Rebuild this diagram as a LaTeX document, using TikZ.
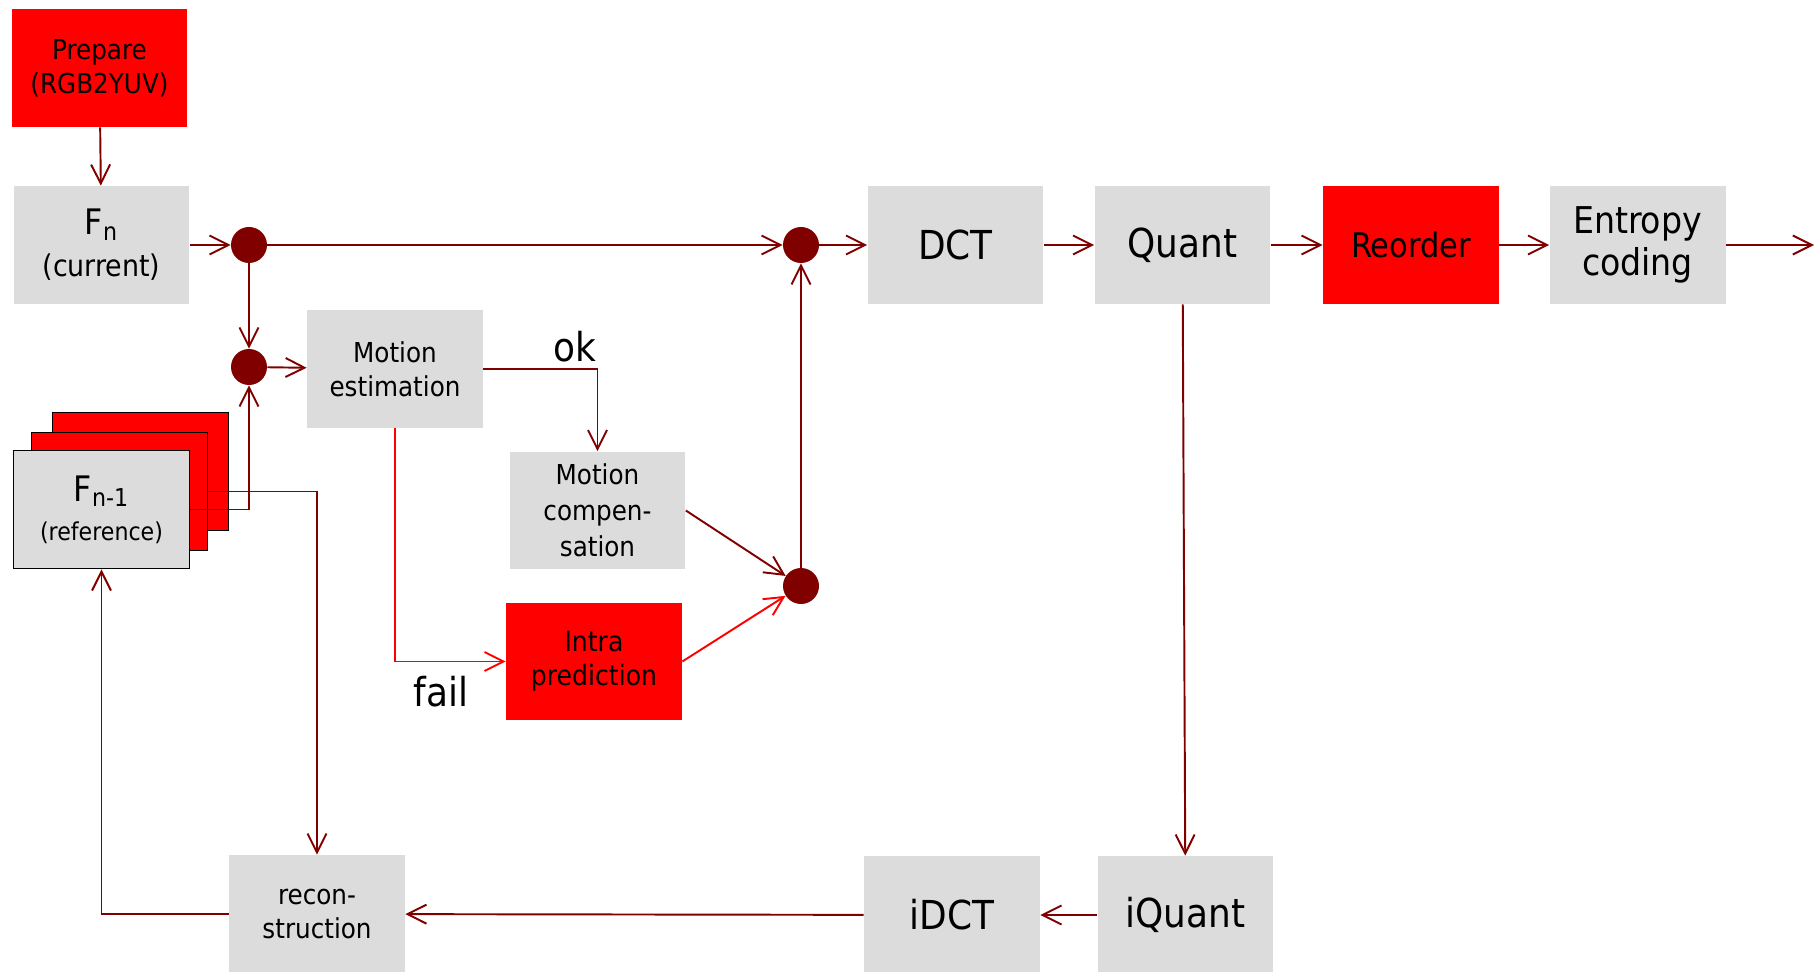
\documentclass[tikz,border=0pt]{standalone}
\usepackage{fontspec}
\setmainfont{DejaVu Sans Condensed}
\usetikzlibrary{arrows.meta,positioning}
\definecolor{boxgray}{RGB}{220,220,220}
\definecolor{linered}{RGB}{128,0,0}
\definecolor{brightred}{RGB}{255,0,0}
\tikzset{%
	block/.style    = {fill=boxgray, minimum width=3.52cm, minimum height=2.36cm, inner sep=0pt, align=center},
	redblock/.style = {block, fill=brightred},
	framebox/.style = {block, draw=black, line width=1.1pt},
	junction/.style = {circle, fill=linered, minimum size=0.72cm, inner sep=0pt},
	arrow/.style    = {draw=linered, line width=1.1pt, -{Straight Barb[length=3.8mm,width=3.8mm]}},
	redarrow/.style = {arrow, draw=brightred},
	bigtxt/.style   = {font=\fontsize{22.7}{26}\selectfont},
	midtxt/.style   = {font=\fontsize{21}{23.8}\selectfont},
	smalltxt/.style = {font=\fontsize{15.6}{19.3}\selectfont},
}

\begin{document}
\begin{tikzpicture}[x=0.02cm, y=-0.02cm]
	\useasboundingbox (0,0) rectangle (1816,972);
	% input side
	\node[redblock, smalltxt] (prep) at (99.5,68) {Prepare\\(RGB2YUV)};
	\node[block, font=\fontsize{17}{24}\selectfont] (fn) at (101.5,245) {{\fontsize{20}{24}\selectfont F\textsubscript{n}}\\(current)};
	% stack of reference frames
	\node[framebox, fill=brightred] (fref3) at (140.5,471.5) {};
	\node[framebox, fill=brightred] (fref2) at (119.5,491.5) {};
	\node[framebox, font=\fontsize{14}{22}\selectfont] (fref) at (101.5,509.5) {{\fontsize{20}{22}\selectfont F\textsubscript{n-1}}\\(reference)};
	% junctions
	\node[junction] (dot1) at (249,245) {};
	\node[junction] (dot2) at (249,367) {};
	\node[junction] (dot3) at (801,245) {};
	\node[junction] (dot4) at (801,586) {};
	% prediction
	\node[block, smalltxt] (motest) at (395,369) {Motion\\estimation};
	\node[block, font=\fontsize{15.6}{20.4}\selectfont] (motcomp) at (597.5,510.5) {Motion\\compen-\\sation};
	\node[redblock, font=\fontsize{15.9}{19.3}\selectfont] (intra) at (594,661.5) {Intra\\prediction};
	\node[bigtxt] (oklbl) at (575,347) {ok};
	\node[bigtxt] (faillbl) at (441,692) {fail};
	% forward path
	\node[block, bigtxt] (dct) at (955.5,245) {DCT};
	\node[block, bigtxt] (quant) at (1182.5,245) {Quant};
	\node[redblock, font=\fontsize{19.3}{22}\selectfont] (reord) at (1411,245) {Reorder};
	\node[block, midtxt] (entropy) at (1637.5,245) {Entropy\\coding};
	\coordinate (out) at (1814,245);
	% inverse path
	\node[block, bigtxt] (iquant) at (1185.5,915) {iQuant};
	\node[block, bigtxt] (idct) at (952,915) {iDCT};
	\node[block, smalltxt] (recon) at (317,914) {recon-\\struction};

	\draw[arrow] (prep) -- (fn);
	\draw[arrow] (fn) -- (dot1);
	\draw[arrow] (dot1) -- (dot3);
	\draw[arrow] (dot1) -- (dot2);
	\draw[arrow] (dot2) -- (motest);
	\draw[arrow] (fref.east) -| (dot2);
	\draw[arrow] (fref2.east) -| (recon);
	\draw[arrow] (motest) -| (motcomp);
	\draw[redarrow] (motest) |- (intra);
	\draw[arrow] (motcomp.east) -- (dot4);
	\draw[redarrow] (intra.east) -- (dot4);
	\draw[arrow] (dot4) -- (dot3);
	\draw[arrow] (dot3) -- (dct);
	\draw[arrow] (dct) -- (quant);
	\draw[arrow] (quant) -- (reord);
	\draw[arrow] (reord) -- (entropy);
	\draw[arrow] (entropy) -- (out);
	\draw[arrow] (quant) -- (iquant);
	\draw[arrow] (iquant) -- (idct);
	\draw[arrow] (idct) -- (recon);
	\draw[arrow] (recon) -| (fref);
\end{tikzpicture}
\end{document}
